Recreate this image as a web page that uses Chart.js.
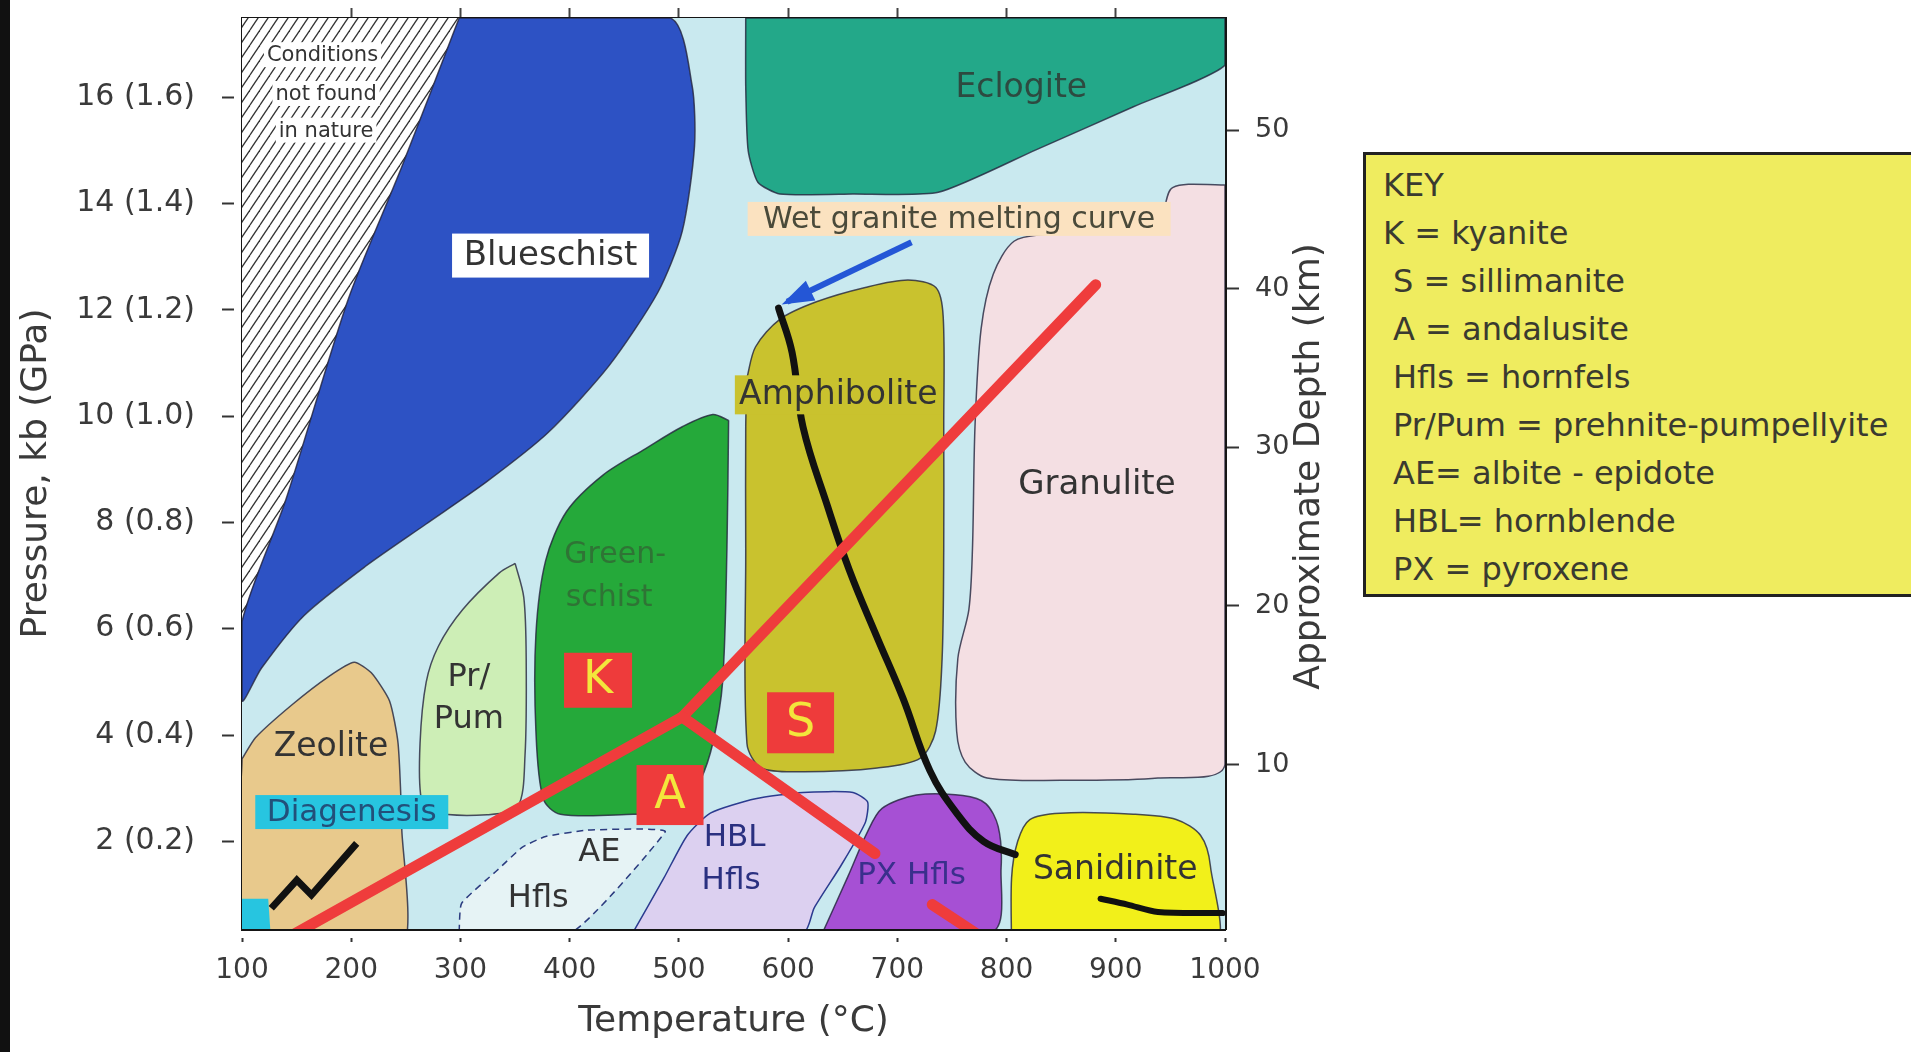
<!DOCTYPE html>
<html>
<head>
<meta charset="utf-8">
<title>Metamorphic facies</title>
<script src="https://cdn.jsdelivr.net/npm/chart.js@4.4.1/dist/chart.umd.min.js"></script>
<style>
  html, body { margin: 0; padding: 0; background: #fff; overflow: hidden; }
  body { width: 1911px; height: 1052px; position: relative; font-family: 'DejaVu Sans', sans-serif; }
  #edge { position: absolute; left: 0; top: 0; width: 10px; height: 1052px; background: #111; z-index: 2; }
  #wrap { position: absolute; left: 0; top: 0; width: 1340px; height: 1052px; }
  #key {
    position: absolute; left: 1363px; top: 152px; width: 620px; height: 433px;
    padding: 6px 0 0 17px; background: #efec5f; border: 3px solid #222;
    color: #3a3a30; font-size: 32px; line-height: 48px; white-space: nowrap;
  }
  #key .ind { padding-left: 10px; }
</style>
</head>
<body>
<div id="edge"></div>
<div id="wrap"><canvas id="faciesChart" width="1340" height="1052"></canvas></div>
<div id="key"></div>

<script>
// axis ticks
const tempTicks = [100, 200, 300, 400, 500, 600, 700, 800, 900, 1000]
const topTicks = [200, 300, 400, 500, 600, 700, 800, 900]
const pressureTicks = [2, 4, 6, 8, 10, 12, 14, 16]
const depthTicks = [10, 20, 30, 40, 50]

// facies fields, [temperature °C, pressure kb]
const noNaturePts = [[100, 17.49], [298.8, 17.49], [246.3, 14.69], [197.1, 12.19], [140.2, 8.43], [100, 6.13]]
const blueschistPts = [[298.8, 17.49], [491.9, 17.49], [512.0, 16.23], [514.3, 15.08], [503.1, 13.48], [480.8, 12.33],
    [436.1, 10.95], [380.3, 9.69], [324.4, 8.77], [268.6, 7.97], [212.8, 7.17], [156.9, 6.25], [117.9, 5.26],
    [100, 4.64], [100, 6.13], [140.2, 8.43], [197.1, 12.19], [246.3, 14.69]]
const eclogitePts = [[561.2, 17.49], [1000, 17.49], [1000, 16.6], [916.2, 15.82], [826.9, 15.01], [737.6, 14.21],
    [659.4, 14.18], [592.4, 14.18], [572.3, 14.40], [563.4, 15.0], [561.2, 16.2]]
const granulitePts = [[1000, 14.35], [952.0, 14.30], [938.6, 13.71], [838.1, 13.43], [806.8, 13.29], [787.8, 12.67],
    [776.7, 11.64], [771.1, 9.80], [768.8, 7.51], [765.5, 6.36], [755.4, 5.44], [754.3, 4.07], [762.1, 3.49],
    [782.2, 3.19], [849.2, 3.15], [938.6, 3.19], [1000, 3.45]]
const amphibolitePts = [[562.3, 10.72], [570.1, 11.30], [592.4, 11.82], [625.9, 12.15], [670.6, 12.42], [709.7, 12.56],
    [735.3, 12.42], [742.0, 11.87], [742.5, 9.80], [742.5, 7.51], [741.0, 5.44], [735.0, 4.07], [720.8, 3.56],
    [681.7, 3.38], [614.7, 3.31], [575.7, 3.38], [562.3, 3.84], [561.2, 7.51], [561.2, 9.80]]
const greenschistPts = [[545.5, 9.92], [544.0, 7.51], [540.0, 4.99], [531.0, 3.84], [519.8, 3.15], [503.1, 2.57],
    [458.4, 2.51], [391.4, 2.51], [375.8, 2.80], [369.1, 4.07], [369.1, 5.90], [378.0, 7.28], [397.0, 8.20],
    [430.5, 8.89], [469.6, 9.39], [503.1, 9.80], [531.0, 10.03]]
const prPumPts = [[350.1, 7.23], [335.6, 7.05], [302.1, 6.36], [279.8, 5.67], [268.6, 4.99], [263.0, 3.84],
    [264.1, 2.80], [274.2, 2.55], [324.4, 2.50], [352.4, 2.65], [359.1, 3.61], [360.2, 5.44], [358.0, 6.59]]
const zeolitePts = [[100, 3.55], [112.3, 3.95], [145.8, 4.57], [179.3, 5.10], [202.7, 5.37], [218.4, 5.17],
    [235.1, 4.64], [242.9, 3.84], [246.3, 2.23], [246.3, 0], [100, 0]]
const diagenesisPts = [[100, 0.92], [124, 0.92], [127, 0], [100, 0]]
const aeHflsPts = [[298.8, 0.3], [301.0, 0.83], [333.4, 1.45], [356.8, 1.89], [378.0, 2.09], [416.0, 2.21],
    [466.2, 2.23], [487.5, 2.18], [402.6, 0.3]]
const hblHflsPts = [[458.4, 0.3], [486.3, 1.31], [507.6, 2.11], [528.8, 2.53], [570.1, 2.80], [613.6, 2.92],
    [659.4, 2.92], [672.8, 2.74], [670.6, 2.35], [648.3, 1.54], [623.7, 0.74], [614.7, 0.3]]
const pxHflsPts = [[632, 0.3], [655, 1.35], [672, 2.15], [686, 2.62], [717.5, 2.87], [760, 2.86], [781, 2.71],
    [792.3, 2.28], [795, 1.5], [787, 0.3]]
const sanidinitePts = [[804.6, 0], [804.6, 1.31], [810.2, 2.00], [821.3, 2.41], [849.2, 2.53], [916.2, 2.51],
    [955.3, 2.41], [977.7, 2.11], [986.6, 1.54], [988.8, 0]]

// curves
const solidusPts = [[591.3, 12.03], [603.6, 11.20], [613.6, 9.80], [636.0, 8.31], [656.1, 7.10], [680.6, 5.88],
    [705.2, 4.69], [729.8, 3.33], [754.3, 2.53], [778.9, 2.00], [807.9, 1.75]]
const wigglePts = [[886.1, 0.92], [910.7, 0.81], [938.6, 0.67], [997.8, 0.65]]
const zigzagPts = [[126.8, 0.74], [150.2, 1.27], [163.6, 0.99], [205.0, 1.96]]
const kyaniteBoundPts = [[145.8, 0.23], [503.1, 4.34], [881.6, 12.47]]
const andSilPts = [[503.1, 4.34], [679.5, 1.77]]
const andSilTailPts = [[732.0, 0.81], [771.1, 0.28]]
const pointerPts = [[713.0, 13.27], [599.1, 12.15]]

const keyLines = ['KEY', 'K = kyanite', 'S = sillimanite', 'A = andalusite', 'Hfls = hornfels',
    'Pr/Pum = prehnite-pumpellyite', 'AE= albite - epidote', 'HBL= hornblende', 'PX = pyroxene']

// text placed on the diagram (anchor in °C / kb)
const fieldLabels = [
    { text: 'Conditions', x: 173.7, y: 16.80, size: 21, box: '#fff' },
    { text: 'not found', x: 177, y: 16.07, size: 21, box: '#fff' },
    { text: 'in nature', x: 177, y: 15.38, size: 21, box: '#fff' },
    { text: 'Blueschist', x: 382.5, y: 13.02, size: 34, box: '#fff', w: 197, h: 44 },
    { text: 'Eclogite', x: 813.5, y: 16.18, size: 33, color: '#2d4a40' },
    { text: 'Wet granite melting curve', x: 756.6, y: 13.71, size: 30, box: '#fbe2c0', w: 423, h: 34, color: '#4a4a3a' },
    { text: 'Amphibolite', x: 646.0, y: 10.40, size: 33, box: '#c9c22e', w: 207, h: 39 },
    { text: 'Granulite', x: 882.7, y: 8.72, size: 34 },
    { text: 'Green-', x: 441.7, y: 7.40, size: 30, color: '#2f7435' },
    { text: 'schist', x: 436.1, y: 6.59, size: 30, color: '#2f7435' },
    { text: 'Pr/', x: 307.7, y: 5.10, size: 32 },
    { text: 'Pum', x: 307.7, y: 4.30, size: 32 },
    { text: 'Zeolite', x: 181.5, y: 3.79, size: 33 },
    { text: 'Diagenesis', x: 200.5, y: 2.55, size: 31, box: '#27c5e0', w: 193, h: 34, color: '#22507a' },
    { text: 'AE', x: 427.2, y: 1.80, size: 32 },
    { text: 'Hfls', x: 371.3, y: 0.94, size: 32 },
    { text: 'HBL', x: 551.1, y: 2.09, size: 31, color: '#2a3080' },
    { text: 'Hfls', x: 547.8, y: 1.27, size: 31, color: '#2a3080' },
    { text: 'PX Hfls', x: 713.0, y: 1.36, size: 31, color: '#3a2f8c' },
    { text: 'Sanidinite', x: 899.5, y: 1.47, size: 33 },
    { text: 'K', x: 426.0, y: 5.03, size: 46, box: '#ee3b3b', w: 68, h: 55, color: '#f3e63c' },
    { text: 'S', x: 611.4, y: 4.23, size: 46, box: '#ee3b3b', w: 67, h: 61, color: '#f3e63c' },
    { text: 'A', x: 491.9, y: 2.87, size: 46, box: '#ee3b3b', w: 67, h: 60, color: '#f3e63c' }
]

;(function () {
    const FONT = 'DejaVu Sans'
    const INK = '#3a3a3a'
    Chart.defaults.font.family = FONT
    Chart.defaults.color = INK

    // key box
    const key = document.getElementById('key')
    keyLines.forEach((line, i) => {
        const d = document.createElement('div')
        d.textContent = line
        if (i > 1) d.className = 'ind'
        key.appendChild(d)
    })

    // diagonal hatching for the "not found in nature" corner
    function hatchPattern() {
        const c = document.createElement('canvas')
        c.width = 10
        c.height = 15
        const g = c.getContext('2d')
        g.fillStyle = '#fff'
        g.fillRect(0, 0, 10, 15)
        g.strokeStyle = '#333'
        g.lineWidth = 1.3
        for (const off of [-10, 0, 10]) {
            g.beginPath()
            g.moveTo(off, 15)
            g.lineTo(off + 10, 0)
            g.stroke()
        }
        return g.createPattern(c, 'repeat')
    }

    const toXY = (pts) => pts.map(([x, y]) => ({ x, y }))

    function field(label, pts, color, extra) {
        return Object.assign({
            label,
            data: toXY(pts.concat([pts[0]])),
            backgroundColor: color,
            borderColor: 'rgba(35, 35, 60, 0.8)',
            borderWidth: 1.5,
            fill: 'shape',
            tension: 0.3,
            pointRadius: 0,
            xAxisID: 'x',
            yAxisID: 'y'
        }, extra || {})
    }

    function curve(label, pts, color, width, extra) {
        return Object.assign({
            label,
            data: toXY(pts),
            borderColor: color,
            borderWidth: width,
            fill: false,
            tension: 0,
            pointRadius: 0,
            borderCapStyle: 'round',
            borderJoinStyle: 'round',
            xAxisID: 'x',
            yAxisID: 'y'
        }, extra || {})
    }

    // listed bottom to top
    const datasets = [
        field('Not found in nature', noNaturePts, hatchPattern(), { borderWidth: 0, tension: 0 }),
        field('Blueschist', blueschistPts, '#2d52c4', { tension: 0.25 }),
        field('Eclogite', eclogitePts, '#23a889', { tension: 0.2 }),
        field('Granulite', granulitePts, '#f4dfe3'),
        field('Amphibolite', amphibolitePts, '#c9c22e'),
        field('Greenschist', greenschistPts, '#25a93a'),
        field('Pr/Pum', prPumPts, '#cdeeb6'),
        field('Zeolite', zeolitePts, '#e8c98c', { tension: 0.2 }),
        field('Diagenesis', diagenesisPts, '#27c5e0', { borderWidth: 0, tension: 0 }),
        field('AE Hfls', aeHflsPts, '#e6f3f5', { borderColor: '#2b3b7f', borderDash: [7, 5], tension: 0.15 }),
        field('HBL Hfls', hblHflsPts, '#dcd0f0', { borderColor: '#2b3b8f', tension: 0.2 }),
        field('PX Hfls', pxHflsPts, '#a650d4', { tension: 0.3 }),
        field('Sanidinite', sanidinitePts, '#f2f01a', { tension: 0.3 }),
        curve('Wet granite solidus', solidusPts, '#111', 7, { tension: 0.4 }),
        curve('Melt', wigglePts, '#111', 6, { tension: 0.3 }),
        curve('Diagenesis path', zigzagPts, '#111', 7, { borderCapStyle: 'butt', borderJoinStyle: 'miter' }),
        curve('Kyanite boundary', kyaniteBoundPts, '#ef3c3c', 11),
        curve('And-Sil', andSilPts, '#ef3c3c', 11),
        curve('And-Sil tail', andSilTailPts, '#ef3c3c', 11),
        curve('Pointer', pointerPts, '#2456d6', 6, { borderCapStyle: 'butt', arrowHead: true })
    ]
    datasets.forEach((d, i) => { d.order = datasets.length - i })

    const plotBackground = {
        id: 'plotBackground',
        beforeDatasetsDraw(chart) {
            const { ctx, chartArea: a } = chart
            ctx.save()
            ctx.fillStyle = '#c9e9ef'
            ctx.fillRect(a.left, a.top, a.width, a.height)
            ctx.restore()
        }
    }

    const fieldText = {
        id: 'fieldText',
        afterDatasetsDraw(chart) {
            const { ctx, scales } = chart
            const xs = scales.x
            const ys = scales.y
            ctx.save()
            // arrow head at the end of the pointer
            chart.data.datasets.forEach((ds, i) => {
                if (!ds.arrowHead) return
                const pts = chart.getDatasetMeta(i).data
                const a = pts[pts.length - 2]
                const b = pts[pts.length - 1]
                const ang = Math.atan2(b.y - a.y, b.x - a.x)
                const len = 26
                const half = 11
                ctx.fillStyle = ds.borderColor
                ctx.beginPath()
                ctx.moveTo(b.x + 6 * Math.cos(ang), b.y + 6 * Math.sin(ang))
                ctx.lineTo(b.x - len * Math.cos(ang) + half * Math.sin(ang), b.y - len * Math.sin(ang) - half * Math.cos(ang))
                ctx.lineTo(b.x - len * Math.cos(ang) - half * Math.sin(ang), b.y - len * Math.sin(ang) + half * Math.cos(ang))
                ctx.closePath()
                ctx.fill()
            })

            ctx.textAlign = 'center'
            ctx.textBaseline = 'middle'
            fieldLabels.forEach((l) => {
                const px = xs.getPixelForValue(l.x)
                const py = ys.getPixelForValue(l.y)
                ctx.font = `${l.size}px "${FONT}"`
                if (l.box) {
                    const w = l.w || ctx.measureText(l.text).width + 6
                    const h = l.h || l.size + 4
                    ctx.fillStyle = l.box
                    ctx.fillRect(px - w / 2, py - h / 2, w, h)
                }
                ctx.fillStyle = l.color || '#333'
                ctx.fillText(l.text, px, py + 1)
            })
            ctx.restore()
        },
        afterDraw(chart) {
            // right-hand axis title, reading bottom to top
            const { ctx, chartArea: a } = chart
            ctx.save()
            ctx.translate(a.right + 85, (a.top + a.bottom) / 2 - 7)
            ctx.rotate(-Math.PI / 2)
            ctx.font = `36px "${FONT}"`
            ctx.fillStyle = INK
            ctx.textAlign = 'center'
            ctx.textBaseline = 'middle'
            ctx.fillText('Approximate Depth (km)', 0, 0)
            ctx.restore()
        }
    }

    const frame = { color: '#151515', width: 3 }
    const tickFont = (size) => ({ family: FONT, size })
    // vertical axes: keep their label overhang from pushing the plot frame inwards
    const noOverhang = (width) => (s) => {
        s.width = width
        s.paddingTop = 0
        s.paddingBottom = 0
    }

    new Chart(document.getElementById('faciesChart'), {
        type: 'line',
        data: { datasets },
        options: {
            responsive: false,
            animation: false,
            devicePixelRatio: 1,
            layout: { padding: 0 },
            plugins: {
                legend: { display: false },
                tooltip: { enabled: false }
            },
            scales: {
                x: {
                    type: 'linear',
                    position: 'bottom',
                    min: 100,
                    max: 1000,
                    afterBuildTicks: (s) => { s.ticks = tempTicks.map((v) => ({ value: v })) },
                    afterFit: (s) => {
                        s.height = 123
                        s.paddingLeft = 0
                        s.paddingRight = 0
                    },
                    ticks: {
                        color: INK,
                        font: tickFont(28),
                        padding: 12,
                        maxRotation: 0,
                        autoSkip: false,
                        callback: (v) => String(v)
                    },
                    grid: {
                        drawOnChartArea: false,
                        tickLength: 13,
                        tickColor: '#333',
                        tickWidth: 2,
                        tickBorderDash: [6, 7],
                        tickBorderDashOffset: 6
                    },
                    border: frame,
                    title: {
                        display: true,
                        text: 'Temperature (°C)',
                        color: INK,
                        font: tickFont(36),
                        padding: { top: 0, bottom: 9 }
                    }
                },
                x2: {
                    type: 'linear',
                    position: 'top',
                    min: 100,
                    max: 1000,
                    afterBuildTicks: (s) => { s.ticks = topTicks.map((v) => ({ value: v })) },
                    afterFit: (s) => {
                        s.height = 18
                        s.paddingLeft = 0
                        s.paddingRight = 0
                    },
                    ticks: { display: false },
                    grid: { drawOnChartArea: false, tickLength: 10, tickColor: '#444', tickWidth: 2 },
                    border: frame
                },
                y: {
                    type: 'linear',
                    position: 'left',
                    min: 0.35,
                    max: 17.49,
                    afterBuildTicks: (s) => { s.ticks = pressureTicks.map((v) => ({ value: v })) },
                    afterFit: noOverhang(242),
                    ticks: {
                        color: INK,
                        font: tickFont(30),
                        padding: 27,
                        callback: (v) => `${v} (${(v / 10).toFixed(1)})`
                    },
                    grid: {
                        drawOnChartArea: false,
                        tickLength: 20,
                        tickColor: '#333',
                        tickWidth: 2,
                        tickBorderDash: [12, 20]
                    },
                    border: frame,
                    title: {
                        display: true,
                        text: 'Pressure, kb (GPa)',
                        color: INK,
                        font: tickFont(36),
                        padding: { top: 15, bottom: 0 }
                    }
                },
                y2: {
                    type: 'linear',
                    position: 'right',
                    min: -0.36,
                    max: 57.06,
                    afterBuildTicks: (s) => { s.ticks = depthTicks.map((v) => ({ value: v })) },
                    afterFit: noOverhang(115),
                    ticks: {
                        color: INK,
                        font: tickFont(27),
                        padding: 16,
                        callback: (v) => String(v)
                    },
                    grid: { drawOnChartArea: false, tickLength: 14, tickColor: '#333', tickWidth: 2 },
                    border: frame
                }
            }
        },
        plugins: [plotBackground, fieldText]
    })
})()
</script>
</body>
</html>
